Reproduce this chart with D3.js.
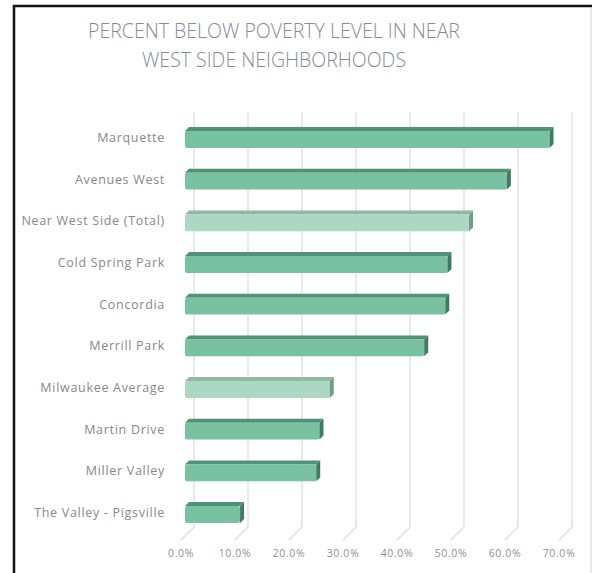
<!DOCTYPE html>
<html>
<head>
<meta charset="utf-8">
<script src="https://cdn.jsdelivr.net/npm/d3@7"></script>
<style>
  body { margin: 0; background: #fff; }
  svg { display: block; }
</style>
</head>
<body>
<div id="chart"></div>
<script>
// data
const categories = ["Marquette", "Avenues West", "Near West Side (Total)", "Cold Spring Park",
  "Concordia", "Merrill Park", "Milwaukee Average", "Martin Drive", "Miller Valley", "The Valley - Pigsville"]
const values = [67.5, 59.6, 52.6, 48.6, 48.2, 44.3, 26.8, 24.9, 24.3, 10.2]
const highlight = ["Near West Side (Total)", "Milwaukee Average"]
const ticks = [0, 10, 20, 30, 40, 50, 60, 70]
const titleLines = ["PERCENT BELOW POVERTY LEVEL IN NEAR", "WEST SIDE NEIGHBORHOODS"]

const W = 592, H = 573
const DEPTH = 4      // depth of the 3d bars
const BACK = 9       // front to back wall shift

const data = categories.map((c, i) => ({name: c, value: values[i]}))

const svg = d3.select("#chart").append("svg")
  .attr("width", W).attr("height", H)

// frame
svg.append("rect").attr("x", 14).attr("y", 6).attr("width", W).attr("height", H)
  .attr("fill", "#fff").attr("stroke", "#111").attr("stroke-width", 2.5)
svg.append("line").attr("x1", 591).attr("x2", 591).attr("y1", 8).attr("y2", H)
  .attr("stroke", "#d0d0d0")

// title
svg.append("g").selectAll("text").data(titleLines).join("text")
  .attr("x", 274).attr("y", (d, i) => 38 + i * 29)
  .attr("text-anchor", "middle")
  .attr("font-family", "Open Sans")
  .attr("font-weight", 300)
  .attr("font-size", 19.5)
  .attr("fill", "#838b98")
  .text(d => d)

// scales: front face of the bars, back wall is shifted right
const x = d3.scaleLinear().domain([0, 70]).range([185, 563])
const xBack = v => x(v) + BACK
const y = d3.scaleBand().domain(categories).range([116.67, 533.33])
  .paddingInner(0.5).paddingOuter(0.25)

// back wall gridlines + floor lines
const grid = svg.append("g")
grid.selectAll("line.g").data(ticks).join("line")
  .attr("class", "g")
  .attr("x1", d => xBack(d)).attr("x2", d => xBack(d))
  .attr("y1", 112).attr("y2", 527)
  .attr("stroke", "#dcdcdc").attr("stroke-width", 1.2)
grid.selectAll("line.f").data(ticks).join("line")
  .attr("class", "f")
  .attr("x1", d => xBack(d)).attr("x2", d => xBack(d) - 13)
  .attr("y1", 527).attr("y2", 540)
  .attr("stroke", "#dcdcdc").attr("stroke-width", 1.2)

// tick labels
svg.append("g").selectAll("text").data(ticks).join("text")
  .attr("x", d => xBack(d) - 13).attr("y", 557)
  .attr("text-anchor", "middle")
  .attr("font-family", "Open Sans")
  .attr("font-size", 10.5)
  .attr("letter-spacing", 0.6)
  .attr("fill", "#8f8f8f")
  .text(d => d3.format(".1f")(d) + "%")

// category labels
svg.append("g").selectAll("text").data(categories).join("text")
  .attr("x", 165).attr("y", d => y(d) + y.bandwidth() / 2 + 4.5)
  .attr("text-anchor", "end")
  .attr("font-family", "Open Sans")
  .attr("font-size", 12.5)
  .attr("letter-spacing", 0.7)
  .attr("fill", "#888")
  .text(d => d)

// bars
const bars = svg.append("g").selectAll("g").data(data).join("g")
const isLight = d => highlight.includes(d.name)

// top face
bars.append("path")
  .attr("d", d => {
    const x0 = x(0), x1 = x(d.value), t = y(d.name)
    return `M${x0},${t + DEPTH} L${x1},${t + DEPTH} L${x1 + DEPTH},${t} L${x0 + DEPTH},${t} Z`
  })
  .attr("fill", d => isLight(d) ? "#8fb9a4" : "#4f9277")

// front face
bars.append("rect")
  .attr("x", x(0))
  .attr("y", d => y(d.name) + DEPTH)
  .attr("width", d => x(d.value) - x(0))
  .attr("height", y.bandwidth() - DEPTH)
  .attr("rx", 2)
  .attr("fill", d => isLight(d) ? "#acd8c3" : "#78c1a1")

// end cap
bars.append("path")
  .attr("d", d => {
    const x1 = x(d.value), t = y(d.name), b = t + y.bandwidth()
    return `M${x1},${t + DEPTH} L${x1 + DEPTH},${t} L${x1 + DEPTH},${b - DEPTH} L${x1},${b} Z`
  })
  .attr("fill", d => isLight(d) ? "#6f9e88" : "#3f7a62")
</script>
</body>
</html>
